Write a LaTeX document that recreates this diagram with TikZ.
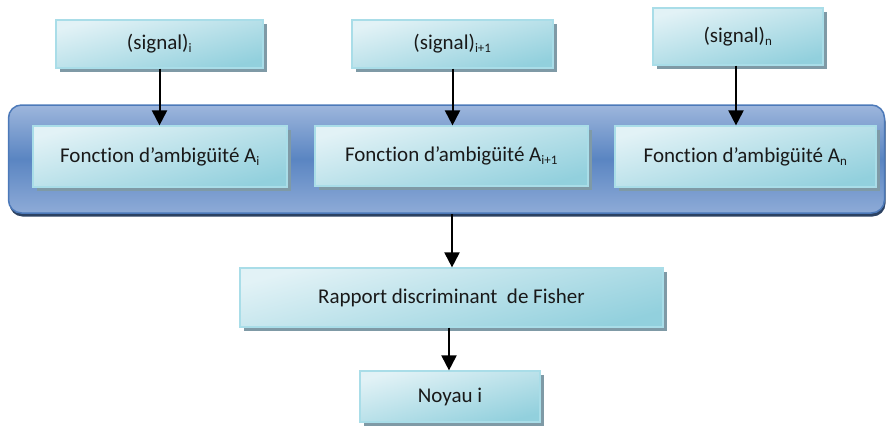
\documentclass[tikz,border=0pt]{standalone}
\usepackage{fontspec}
\setmainfont{Carlito}[Ligatures=NoCommon]
\usetikzlibrary{arrows.meta,shadows}
\definecolor{boxlight}{HTML}{E2F2F6}
\definecolor{boxdark}{HTML}{92D0DD}
\definecolor{boxedge}{HTML}{A9DDE8}
\definecolor{boxshadow}{HTML}{7F9AA6}
\definecolor{bandtop}{HTML}{9DB6DC}
\definecolor{bandmid}{HTML}{5A85C2}
\definecolor{bandbot}{HTML}{8EABD7}
\definecolor{bandedge}{HTML}{4C79B9}
\definecolor{bandshadow}{HTML}{2C4262}
\tikzset{
  stepbox/.style={rectangle, draw=boxedge, line width=1.2pt,
    top color=boxlight, bottom color=boxdark, shading angle=15,
    drop shadow={shadow xshift=3.5pt, shadow yshift=-4pt, fill=boxshadow, opacity=1},
    font=\fontsize{21}{24}\selectfont, text=black!90, inner sep=0pt},
  band/.style={rectangle, rounded corners=13pt, draw=bandedge, line width=1.5pt,
    top color=bandtop, bottom color=bandbot, middle color=bandmid,
    drop shadow={shadow xshift=1pt, shadow yshift=-3.5pt, fill=bandshadow, opacity=1}},
  arr/.style={line width=2pt, -{Triangle[length=15pt,width=15pt]}}
}
\newcommand{\sub}[1]{\textsubscript{\fontsize{13}{13}\selectfont #1}}
\begin{document}
\begin{tikzpicture}[x=1pt,y=-1pt]
\useasboundingbox (0,0) rectangle (888,426);

% grouping band behind the three ambiguity functions
\node[band, minimum width=876pt, minimum height=108pt] (band) at (446.5,159) {};

% signal inputs
\node[stepbox, minimum width=207pt, minimum height=48pt] (s1) at (159.5,44) {(signal)\sub{i}};
\node[stepbox, minimum width=201pt, minimum height=48pt] (s2) at (452.5,44) {(signal)\sub{i+1}};
\node[stepbox, minimum width=170pt, minimum height=57pt] (s3) at (738,36.5) {(signal)\sub{n}};

% ambiguity functions
\node[stepbox, minimum width=254pt, minimum height=61pt] (a1) at (160,156.5) {Fonction d’ambigüité A\sub{i}};
\node[stepbox, minimum width=273pt, minimum height=60pt] (a2) at (451.5,156) {Fonction d’ambigüité A\sub{i+1}};
\node[stepbox, minimum width=261pt, minimum height=61pt] (a3) at (745.5,156.5) {Fonction d’ambigüité A\sub{n}};

% Fisher ratio and kernel
\node[stepbox, minimum width=423pt, minimum height=59pt] (fisher) at (451.5,297.5) {Rapport discriminant\ \ de Fisher};
\node[stepbox, minimum width=180pt, minimum height=51pt] (noyau) at (450,396.5) {Noyau i};

% connectors
\draw[arr] (s1.south) -- (s1.south |- a1.north);
\draw[arr] (s2.south) -- (s2.south |- a2.north);
\draw[arr] ([xshift=-2pt]s3.south) -- ([xshift=-2pt]s3.south |- a3.north);
\draw[arr] ([xshift=5.5pt]band.south) -- ([xshift=5.5pt]band.south |- fisher.north);
\draw[arr] ([xshift=-2.5pt]fisher.south) -- ([xshift=-2.5pt]fisher.south |- noyau.north);
\end{tikzpicture}
\end{document}
